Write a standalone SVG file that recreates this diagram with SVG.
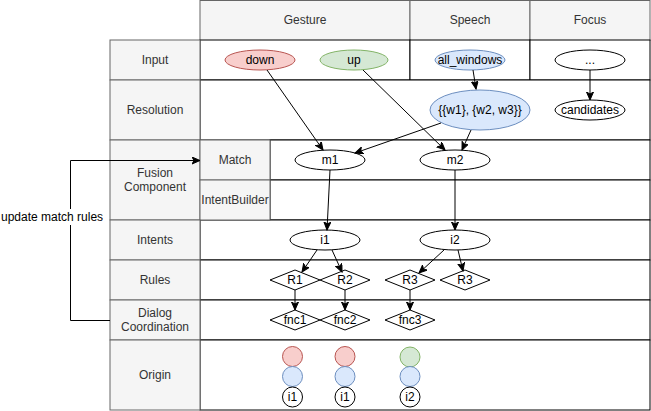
<svg xmlns="http://www.w3.org/2000/svg" width="651" height="411" viewBox="0 0 651 411">
<style>
.hd{fill:#f5f5f5;stroke:#666666;stroke-width:1}
.ct{fill:#ffffff;stroke:#000000;stroke-width:1}
.ht{font-family:"Liberation Sans",Arial,sans-serif;font-size:12px;fill:#333333;text-anchor:middle}
.nt{font-family:"Liberation Sans",Arial,sans-serif;font-size:12px;fill:#000000;text-anchor:middle}
.wn{fill:#ffffff;stroke:#000000;stroke-width:1}
.red{fill:#f8cecc;stroke:#b85450;stroke-width:1}
.grn{fill:#d5e8d4;stroke:#82b366;stroke-width:1}
.blu{fill:#dae8fc;stroke:#6c8ebf;stroke-width:1}
.e{fill:none;stroke:#000000;stroke-width:1;marker-end:url(#arr)}
</style>
<defs>
<marker id="arr" markerUnits="userSpaceOnUse" markerWidth="9" markerHeight="8" refX="8" refY="3.5" orient="auto" viewBox="0 0 9 8">
<path d="M0,0 L8,3.5 L0,7 L2,3.5 z" fill="#000000" stroke="#000000" stroke-width="1"/>
</marker>
</defs>
<rect width="651" height="411" fill="#ffffff"/>
<g id="grid">
<rect class="hd" x="200" y="0.5" width="210" height="40"/>
<rect class="hd" x="410" y="0.5" width="120" height="40"/>
<rect class="hd" x="530" y="0.5" width="120" height="40"/>
<text class="ht" x="305" y="24">Gesture</text>
<text class="ht" x="470" y="24">Speech</text>
<text class="ht" x="590" y="24">Focus</text>
<rect class="ct" x="200" y="40" width="210" height="40"/>
<rect class="ct" x="410" y="40" width="120" height="40"/>
<rect class="ct" x="530" y="40" width="120" height="40"/>
<rect class="ct" x="200" y="80" width="450" height="60"/>
<rect class="ct" x="270" y="140" width="380" height="40"/>
<rect class="ct" x="270" y="180" width="380" height="40"/>
<rect class="ct" x="200" y="220" width="450" height="40"/>
<rect class="ct" x="200" y="260" width="450" height="40"/>
<rect class="ct" x="200" y="300" width="450" height="40"/>
<rect class="ct" x="200" y="340" width="450" height="70"/>
<rect class="hd" x="110" y="40" width="90" height="40"/>
<rect class="hd" x="110" y="80" width="90" height="60"/>
<rect class="hd" x="110" y="140" width="90" height="80"/>
<rect class="hd" x="200" y="140" width="70" height="40"/>
<rect class="hd" x="200" y="180" width="70" height="40"/>
<rect class="hd" x="110" y="220" width="90" height="40"/>
<rect class="hd" x="110" y="260" width="90" height="40"/>
<rect class="hd" x="110" y="300" width="90" height="40"/>
<rect class="hd" x="110" y="340" width="90" height="70"/>
<text class="ht" x="155" y="64">Input</text>
<text class="ht" x="155" y="114">Resolution</text>
<text class="ht" x="155" y="177">Fusion</text>
<text class="ht" x="155" y="191">Component</text>
<text class="ht" x="235" y="164">Match</text>
<text class="ht" x="235" y="204">IntentBuilder</text>
<text class="ht" x="155" y="244">Intents</text>
<text class="ht" x="155" y="284">Rules</text>
<text class="ht" x="155" y="317">Dialog</text>
<text class="ht" x="155" y="331">Coordination</text>
<text class="ht" x="155" y="379">Origin</text>
</g>
<g id="n-down"><ellipse class="red" cx="260" cy="60" rx="35" ry="10"/><text class="nt" x="260" y="64">down</text></g>
<g id="n-up"><ellipse class="grn" cx="354" cy="60" rx="34" ry="10"/><text class="nt" x="354" y="64">up</text></g>
<g id="n-allwindows"><ellipse class="blu" cx="470" cy="60" rx="35" ry="10"/><text class="nt" x="470" y="64">all_windows</text></g>
<g id="n-dots"><ellipse class="wn" cx="590" cy="60" rx="35" ry="10"/><text class="nt" x="590" y="64">...</text></g>
<g id="n-sets"><ellipse class="blu" cx="480" cy="110" rx="50" ry="20"/><text class="nt" x="480" y="114">{{w1}, {w2, w3}}</text></g>
<g id="n-candidates"><ellipse class="wn" cx="590" cy="110" rx="35" ry="10"/><text class="nt" x="590" y="114">candidates</text></g>
<g id="n-m1"><ellipse class="wn" cx="330" cy="160" rx="35" ry="10"/><text class="nt" x="330" y="164">m1</text></g>
<g id="n-m2"><ellipse class="wn" cx="455" cy="160" rx="35" ry="10"/><text class="nt" x="455" y="164">m2</text></g>
<g id="n-i1"><ellipse class="wn" cx="325" cy="240" rx="35" ry="10"/><text class="nt" x="325" y="244">i1</text></g>
<g id="n-i2"><ellipse class="wn" cx="455" cy="240" rx="35" ry="10"/><text class="nt" x="455" y="244">i2</text></g>
<g id="n-R1"><polygon class="wn" points="270,280 295,270 320,280 295,290"/><text class="nt" x="295" y="284">R1</text></g>
<g id="n-R2"><polygon class="wn" points="320,280 345,270 370,280 345,290"/><text class="nt" x="345" y="284">R2</text></g>
<g id="n-R3a"><polygon class="wn" points="385,280 410,270 435,280 410,290"/><text class="nt" x="410" y="284">R3</text></g>
<g id="n-R3b"><polygon class="wn" points="440,280 465,270 490,280 465,290"/><text class="nt" x="465" y="284">R3</text></g>
<g id="n-fnc1"><polygon class="wn" points="270,320 295,310 320,320 295,330"/><text class="nt" x="295" y="324">fnc1</text></g>
<g id="n-fnc2"><polygon class="wn" points="320,320 345,310 370,320 345,330"/><text class="nt" x="345" y="324">fnc2</text></g>
<g id="n-fnc3"><polygon class="wn" points="385,320 410,310 435,320 410,330"/><text class="nt" x="410" y="324">fnc3</text></g>
<g id="n-origin1"><circle class="red" cx="292.5" cy="356.5" r="10"/><circle class="blu" cx="292.5" cy="376.5" r="10"/><circle class="wn" cx="292.5" cy="397" r="10"/><text class="nt" x="292.5" y="401">i1</text></g>
<g id="n-origin2"><circle class="red" cx="345" cy="356.5" r="10"/><circle class="blu" cx="345" cy="376.5" r="10"/><circle class="wn" cx="345" cy="397" r="10"/><text class="nt" x="345" y="401">i1</text></g>
<g id="n-origin3"><circle class="grn" cx="410" cy="357" r="10"/><circle class="blu" cx="410" cy="376.5" r="10"/><circle class="wn" cx="410" cy="397" r="10"/><text class="nt" x="410" y="401">i2</text></g>
<g id="connectors">
<line class="e" x1="267" y1="70" x2="323" y2="150"/>
<line class="e" x1="363" y1="70" x2="445" y2="150"/>
<line class="e" x1="473" y1="70" x2="476" y2="89"/>
<line class="e" x1="590" y1="70" x2="590" y2="100"/>
<line class="e" x1="441" y1="123" x2="355" y2="153"/>
<line class="e" x1="471" y1="130" x2="462" y2="150"/>
<line class="e" x1="330" y1="170" x2="327" y2="230"/>
<line class="e" x1="455" y1="170" x2="455" y2="230"/>
<line class="e" x1="317" y1="250" x2="302" y2="272"/>
<line class="e" x1="332" y1="250" x2="342" y2="272"/>
<line class="e" x1="444" y1="250" x2="419" y2="273"/>
<line class="e" x1="458" y1="250" x2="463" y2="271"/>
<line class="e" x1="295" y1="290" x2="295" y2="310"/>
<line class="e" x1="345" y1="290" x2="345" y2="310"/>
<line class="e" x1="410" y1="290" x2="410" y2="310"/>
<polyline class="e" points="110,320.5 70.5,320.5 70.5,160.5 200,160.5"/>
<rect x="0" y="209" width="103" height="16" fill="#ffffff"/>
<text x="1" y="221" style="font-family:'Liberation Sans',Arial,sans-serif;font-size:12px;fill:#000000">update match rules</text>
</g>
</svg>
